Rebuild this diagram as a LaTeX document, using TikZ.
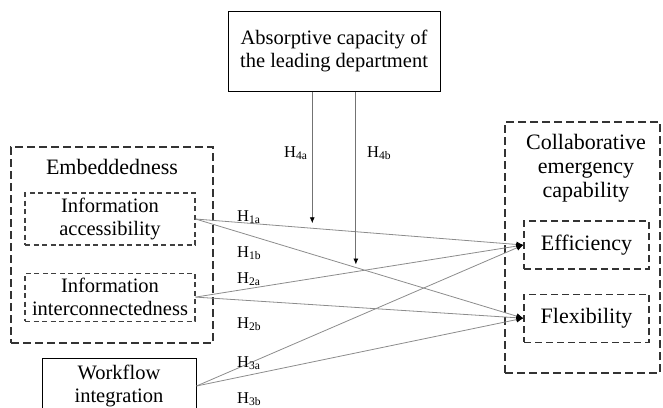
\documentclass[tikz,border=0pt]{standalone}
\usepackage{fontspec}
\setmainfont{Liberation Serif}
\usetikzlibrary{calc, positioning, arrows.meta}
\tikzset{
    concept/.style={rectangle, draw=black, line width=1pt, fill=white, align=center, inner sep=0pt, font=\fontsize{20.5}{23.5}\selectfont},
    groupbox/.style={rectangle, draw=black!80, line width=1.2pt, dash pattern=on 8pt off 4pt, inner sep=0pt},
    grouptitle/.style={align=center, inner sep=0pt, font=\fontsize{22}{24}\selectfont},
    subbox/.style={rectangle, draw=black!75, line width=1.1pt, dash pattern=on 5pt off 3.5pt, align=center, inner sep=0pt, font=\fontsize{20.5}{23.5}\selectfont},
    outcome/.style={rectangle, draw=black!80, line width=1.2pt, dash pattern=on 7pt off 4pt, align=center, inner sep=0pt, minimum width=125pt, minimum height=48pt, font=\fontsize{22}{24}\selectfont},
    hyp/.style={anchor=base west, inner sep=0pt, font=\fontsize{16.5}{18}\selectfont}
}

\begin{document}
\begin{tikzpicture}[x=1pt, y=-1pt,
        hypo/.style={draw=black!45, line width=0.8pt, -{Latex[color=black, length=7pt, width=6pt]}},
        moder/.style={draw=black!55, line width=0.8pt, -{Latex[color=black, length=6pt, width=5pt]}}
    ]
        \useasboundingbox (0,0) rectangle (663,407);
        \clip (0,0) rectangle (663,407);

        % Nodes
        \node[concept, minimum width=212pt, minimum height=80pt] (Absorb) at (334,51) {Absorptive capacity of\\the leading department};

        % Left side
        \node[groupbox, minimum width=202pt, minimum height=196pt] (EmbedGroup) at (112,245) {};
        \node[grouptitle] (EmbedTitle) at (112,167) {Embeddedness};
        \node[subbox, minimum width=170pt, minimum height=52pt] (Access) at (110,219) {Information\\accessibility};
        \node[subbox, minimum width=170pt, minimum height=48pt, below=27pt of Access] (Inter) {Information\\interconnectedness};
        \node[concept, minimum width=154pt, minimum height=56pt] (Workflow) at (119,386) {Workflow\\integration};

        % Right side
        \node[groupbox, minimum width=155pt, minimum height=251pt] (CollabGroup) at (582.5,247.5) {};
        \node[grouptitle] (CollabTitle) at (586,168) {Collaborative\\emergency\\capability};
        \node[outcome] (Eff) at (586.5,245) {Efficiency};
        \node[outcome, below=24pt of Eff] (Flex) {Flexibility};

        % Edges
        \draw[hypo] (Access.east) -- (Eff.west);
        \draw[hypo] (Access.east) -- (Flex.west);
        \draw[hypo] (Inter.east) -- (Eff.west);
        \draw[hypo] (Inter.east) -- (Flex.west);
        \draw[hypo] (Workflow.east) -- (Eff.west);
        \draw[hypo] (Workflow.east) -- (Flex.west);

        % Moderating effects
        \coordinate (ModA) at ($(Access.east)!0.356!(Eff.west)+(0,-5)$);
        \coordinate (ModB) at ($(Access.east)!0.489!(Flex.west)+(0,-3)$);
        \draw[moder] (Absorb.south -| ModA) -- (ModA);
        \draw[moder] (Absorb.south -| ModB) -- (ModB);

        % Hypothesis labels
        \node[hyp] (H1a) at (237,221) {H\textsubscript{1a}};
        \node[hyp] (H1b) at (237,257) {H\textsubscript{1b}};
        \node[hyp] (H2a) at (237,283) {H\textsubscript{2a}};
        \node[hyp] (H2b) at (237,328) {H\textsubscript{2b}};
        \node[hyp] (H3a) at (237,367) {H\textsubscript{3a}};
        \node[hyp] (H3b) at (237,403) {H\textsubscript{3b}};
        \node[hyp] (H4a) at (284,157) {H\textsubscript{4a}};
        \node[hyp] (H4b) at (367,157) {H\textsubscript{4b}};

    \end{tikzpicture}
\end{document}
